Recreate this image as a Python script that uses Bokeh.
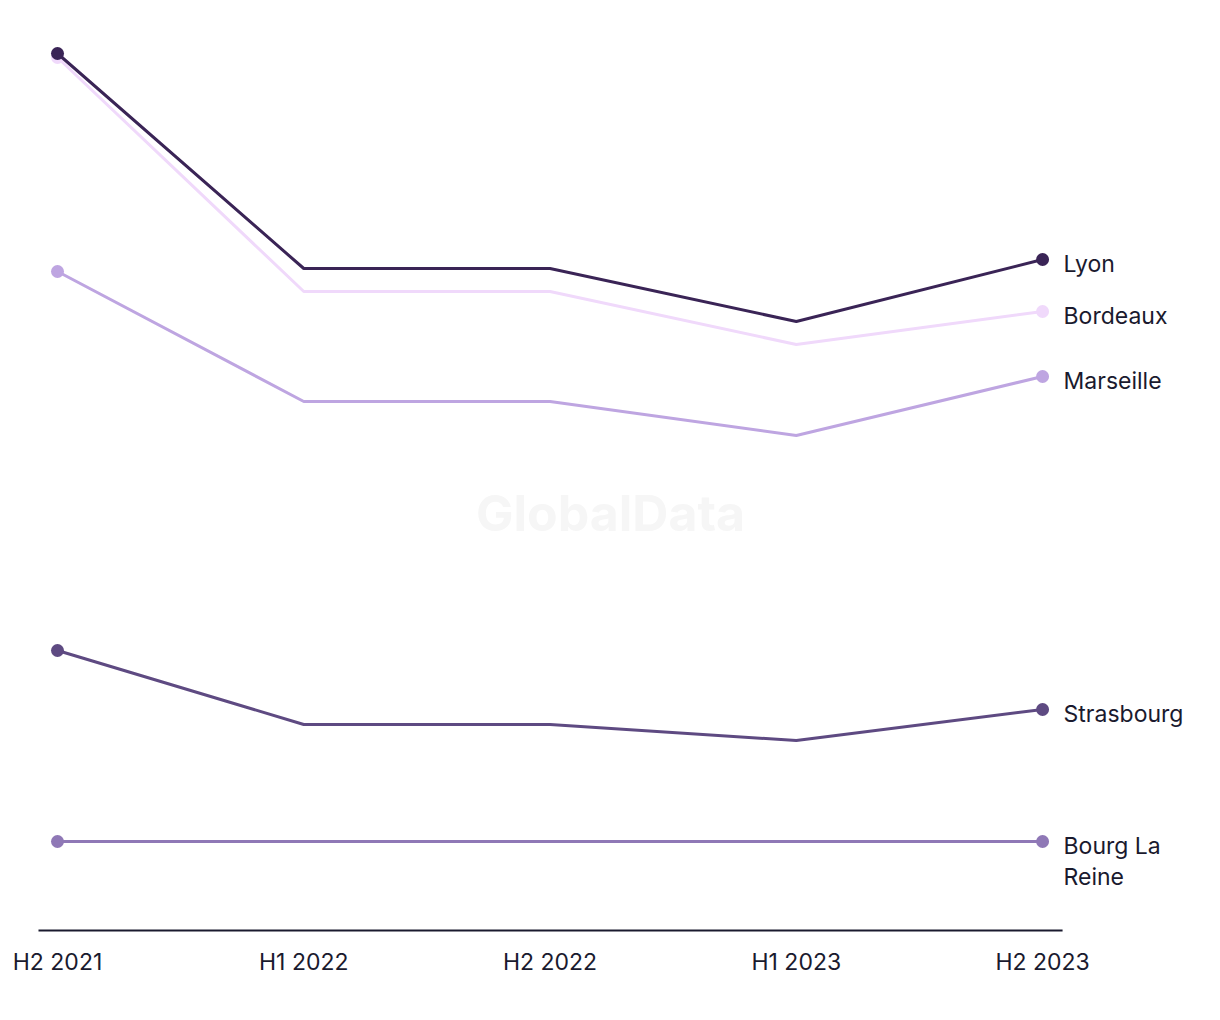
from bokeh.plotting import figure
from bokeh.models import Range1d, Label, FixedTicker, ColumnDataSource
from bokeh.core.properties import value
from bokeh.embed import file_html
from bokeh.resources import INLINE

periods = ["H2 2021", "H1 2022", "H2 2022", "H1 2023", "H2 2023"]
cities = ["Lyon", "Bordeaux", "Marseille", "Strasbourg", "Bourg La Reine"]
lyon = [87.7, 66.2, 66.2, 60.9, 67.1]
bordeaux = [87.3, 63.9, 63.9, 58.6, 61.9]
marseille = [65.9, 52.9, 52.9, 49.5, 55.4]
strasbourg = [28.0, 20.6, 20.6, 19.0, 22.1]
bourg = [8.9, 8.9, 8.9, 8.9, 8.9]
series = [lyon, bordeaux, marseille, strasbourg, bourg]
colors = ["#3a2456", "#f0d9fb", "#bea5e1", "#5e4a82", "#8f78b6"]

FONT = "Inter"
TEXT_COLOR = "#1a1a2e"
xs = list(range(len(periods)))

p = figure(width=1212, height=1000, output_backend="svg", toolbar_location=None,
           x_range=Range1d(-0.199, 4.690), y_range=Range1d(-0.2, 92.2),
           min_border_left=8, min_border_right=0, min_border_top=8, min_border_bottom=68)
p.outline_line_color = None
p.background_fill_color = "white"
p.border_fill_color = "white"
p.grid.visible = False
p.yaxis.visible = False

ax = p.xaxis[0]
ax.ticker = FixedTicker(ticks=xs)
ax.major_label_overrides = {i: s for i, s in enumerate(periods)}
ax.axis_line_color = None
ax.major_tick_line_color = None
ax.minor_tick_line_color = None
ax.major_label_standoff = 9
ax.major_label_text_font = FONT
ax.major_label_text_font_size = "23px"
ax.major_label_text_color = TEXT_COLOR

# baseline
p.segment(x0=[-0.0772], y0=[0], x1=[4.0812], y1=[0], line_color="#1a1a2e", line_width=2)

# watermark
p.add_layout(Label(x=2.2457, y=41.8, text="GlobalData", text_align="center",
                   text_baseline="middle", text_font=FONT, text_font_style="bold",
                   text_font_size="50px", text_color="#f6f6f6"))

# draw lines (lighter ones first so Lyon is on top)
order = [4, 3, 2, 1, 0]
for i in order:
    vals = series[i]
    p.line(xs, vals, line_color=colors[i], line_width=3)
    p.scatter([xs[0], xs[-1]], [vals[0], vals[-1]], size=13, fill_color=colors[i],
              line_color=None)

labels = [c.replace("Bourg La Reine", "Bourg La\nReine") for c in cities]
src = ColumnDataSource(dict(x=[xs[-1]] * len(cities), y=[s[-1] for s in series], t=labels))
p.text(x="x", y="y", text="t", source=src, x_offset=21, y_offset=-10,
       text_baseline="top", text_align="left", text_font=value(FONT),
       text_font_size="23px", text_color=TEXT_COLOR, text_line_height=1.12)

open("out.html", "w").write(file_html(p, INLINE))
